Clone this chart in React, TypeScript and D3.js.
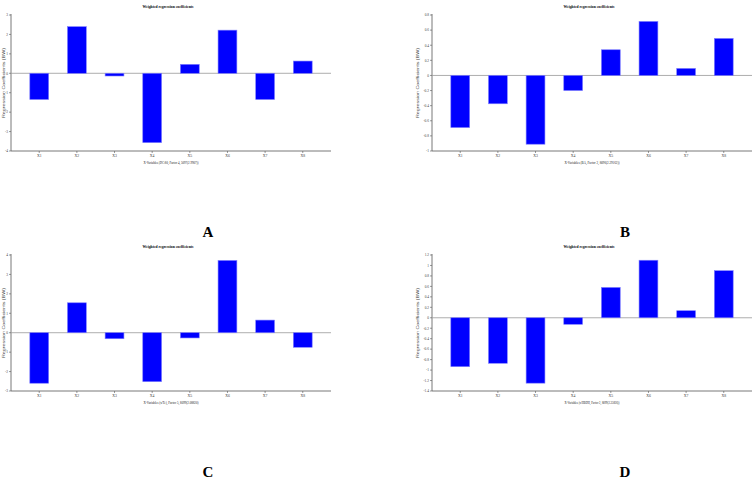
import * as d3 from "d3";

const variables = ["X1", "X2", "X3", "X4", "X5", "X6", "X7", "X8"];

const valuesA = [-1.35, 2.4, -0.14, -3.57, 0.46, 2.22, -1.35, 0.63];
const valuesB = [-0.69, -0.375, -0.91, -0.2, 0.34, 0.715, 0.093, 0.49];
const valuesC = [-2.6, 1.54, -0.31, -2.52, -0.27, 3.72, 0.65, -0.75];
const valuesD = [-0.935, -0.87, -1.25, -0.125, 0.58, 1.1, 0.135, 0.9];

const ticksA = [3, 2, 1, 0, -1, -2, -3, -4];
const ticksB = [0.8, 0.6, 0.4, 0.2, 0, -0.2, -0.4, -0.6, -0.8, -1];
const ticksC = [4, 3, 2, 1, 0, -1, -2, -3];
const ticksD = [1.2, 1, 0.8, 0.6, 0.4, 0.2, 0, -0.2, -0.4, -0.6, -0.8, -1, -1.2, -1.4];

const title = "Weighted regression coefficients";
const yTitle = "Regression Coefficients (BW)";
const xTitles = [
  "X-Variables (DC:80, Factor 4, 5097(2.9907))",
  "X-Variables (BA, Factor 2, 8096(2.29162))",
  "X-Variables (x/Te), Factor 5, 8099(2.08820)",
  "X-Variables (x/HBDH, Factor 2, 8099(2.35836))",
];

type PanelProps = {
  x: number;
  y: number;
  values: number[];
  ticks: number[];
  xTitle: string;
  letter: string;
  letterX: number;
  yTitleX: number;
};

const fmt = (v: number) => String(Math.round(v * 10) / 10);

const Panel = ({ x, y, values, ticks, xTitle, letter, letterX, yTitleX }: PanelProps) => {
  const left = 11;
  const right = 331;
  const top = 15;
  const bottom = 151;
  const xs = d3.scaleBand<string>().domain(variables).range([left, right]).padding(0.5);
  const ys = d3
    .scaleLinear()
    .domain([d3.min(ticks) as number, d3.max(ticks) as number])
    .range([bottom, top]);
  const mid = (left + right) / 2;
  return (
    <g transform={`translate(${x},${y})`}>
      <text x={mid - 3} y={8} fontSize={5} fontWeight="bold" textAnchor="middle"
        fontFamily="Liberation Serif" textLength={51} lengthAdjust="spacingAndGlyphs">{title}</text>
      <line x1={left} x2={left} y1={top - 1} y2={bottom} stroke="#555" strokeWidth={0.8} />
      <line x1={left} x2={right} y1={bottom} y2={bottom} stroke="#555" strokeWidth={0.8} />
      {ticks.map((t) => (
        <g key={t}>
          <line x1={left - 2} x2={left} y1={ys(t)} y2={ys(t)} stroke="#555" strokeWidth={0.6} />
          <text x={left - 3} y={ys(t) + 1.3} fontSize={3.5} textAnchor="end"
            fontFamily="Liberation Sans Narrow" fill="#444">{fmt(t)}</text>
        </g>
      ))}
      <text transform={`translate(${yTitleX},${(top + bottom) / 2}) rotate(-90)`} fontSize={3.8}
        textAnchor="middle" fontFamily="Liberation Sans" fill="#444"
        textLength={70} lengthAdjust="spacingAndGlyphs">{yTitle}</text>
      <line x1={left} x2={right} y1={ys(0)} y2={ys(0)} stroke="#999" strokeWidth={0.8} />
      {variables.map((v, i) => {
        const val = values[i];
        const x0 = xs(v) as number;
        return (
          <g key={v}>
            <rect x={x0} width={xs.bandwidth()} y={ys(Math.max(0, val))}
              height={Math.abs(ys(val) - ys(0))} fill="#0000ff" stroke="#7f7fff" strokeWidth={0.6} />
            <line x1={x0 + xs.bandwidth() / 2} x2={x0 + xs.bandwidth() / 2} y1={bottom} y2={bottom + 2}
              stroke="#555" strokeWidth={0.6} />
            <text x={x0 + xs.bandwidth() / 2} y={bottom + 6} fontSize={3.8} textAnchor="middle"
              fontFamily="Liberation Sans Narrow" fill="#444">{v}</text>
          </g>
        );
      })}
      <text x={mid} y={bottom + 13} fontSize={4.5} textAnchor="middle"
        fontFamily="Liberation Sans Narrow" fill="#222" textLength={55}
        lengthAdjust="spacingAndGlyphs">{xTitle}</text>
      <text x={letterX} y={237} fontSize={15} fontWeight="bold" textAnchor="middle"
        fontFamily="Liberation Serif">{letter}</text>
    </g>
  );
};

export default function App() {
  return (
    <svg width={752} height={481} style={{ position: "fixed", left: 0, top: 0, background: "#fff" }}>
      <rect width={752} height={481} fill="#fff" />
      <Panel x={0} y={0} values={valuesA} ticks={ticksA} xTitle={xTitles[0]} letter="A" letterX={208} yTitleX={5} />
      <Panel x={421} y={0} values={valuesB} ticks={ticksB} xTitle={xTitles[1]} letter="B" letterX={204} yTitleX={-2} />
      <Panel x={0} y={240} values={valuesC} ticks={ticksC} xTitle={xTitles[2]} letter="C" letterX={208} yTitleX={5} />
      <Panel x={421} y={240} values={valuesD} ticks={ticksD} xTitle={xTitles[3]} letter="D" letterX={204} yTitleX={-2} />
    </svg>
  );
}
